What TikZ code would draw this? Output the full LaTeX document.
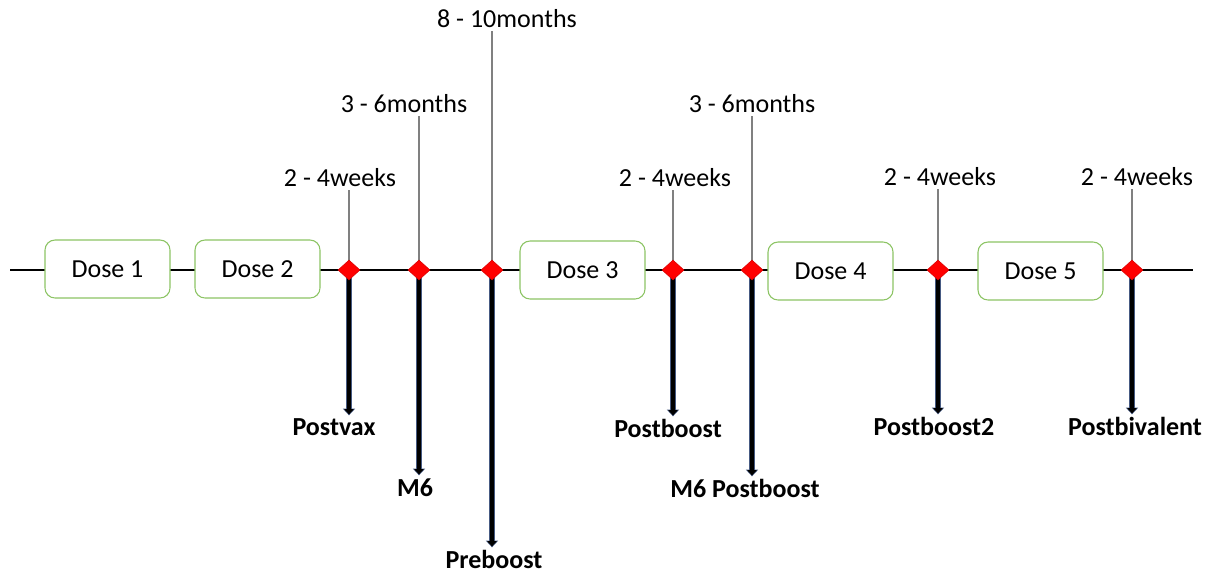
\documentclass[tikz,border=0pt]{standalone}
\usepackage{fontspec}
\setmainfont{Carlito}
\usetikzlibrary{shapes.geometric,arrows.meta}
\pgfdeclarelayer{bg}
\pgfsetlayers{bg,main}
\definecolor{boxgreen}{RGB}{140,196,100}
\definecolor{slate}{RGB}{70,90,130}
\begin{document}
\begin{tikzpicture}[x=0.75pt,y=-0.75pt,
  dosebox/.style={draw=boxgreen, line width=0.8pt, rounded corners=7.5pt,
    minimum width=93.75pt, minimum height=43.5pt, fill=white,
    font=\fontsize{19.5}{22}\selectfont},
  visit/.style={diamond, fill=red, draw=red!85!black, line width=0.4pt,
    minimum width=16.5pt, minimum height=15pt, inner sep=0pt},
  toplab/.style={anchor=south, inner sep=0pt, font=\fontsize{19.5}{22}\selectfont},
  botlab/.style={anchor=north, inner sep=0pt, font=\bfseries\fontsize{19.5}{22}\selectfont},
  tick/.style={draw=gray, line width=0.8pt, shorten >=2pt},
  shaftout/.style={line width=5pt, draw=slate, -{Triangle[length=5pt,width=9pt]}},
  shaftin/.style={line width=3.6pt, draw=black, shorten >=0.7pt, -{Triangle[length=4pt,width=7pt]}},
  axis/.style={draw=black, line width=0.9pt}
]
\useasboundingbox (0,0) rectangle (1209,575);

% timeline ends
\coordinate (L) at (10,270);
\coordinate (R) at (1193,270);

% dose boxes
\node[dosebox] (dose1) at (107.5,269) {Dose 1};
\node[dosebox] (dose2) at (257.5,269) {Dose 2};
\node[dosebox] (dose3) at (582.5,270) {Dose 3};
\node[dosebox] (dose4) at (830.5,271) {Dose 4};
\node[dosebox] (dose5) at (1040.5,271) {Dose 5};

% sampling points
\node[visit] (v1) at (349,270) {};
\node[visit] (v2) at (419,270) {};
\node[visit] (v3) at (492,270) {};
\node[visit] (v4) at (673,270) {};
\node[visit] (v5) at (752,270) {};
\node[visit] (v6) at (938,270) {};
\node[visit] (v7) at (1132,270) {};

% interval labels
\node[toplab] (t1) at (340,187) {2 - 4weeks};
\node[toplab] (t2) at (404,113) {3 - 6months};
\node[toplab] (t3) at (507,28) {8 - 10months};
\node[toplab] (t4) at (675,187) {2 - 4weeks};
\node[toplab] (t5) at (752,113) {3 - 6months};
\node[toplab] (t6) at (940,186) {2 - 4weeks};
\node[toplab] (t7) at (1137,186) {2 - 4weeks};

% sample labels
\node[botlab] (b1) at (334,418) {Postvax};
\node[botlab] (b2) at (415,478) {M6};
\node[botlab] (b3) at (494,550) {Preboost};
\node[botlab] (b4) at (668,419) {Postboost};
\node[botlab] (b5) at (745,479) {M6 Postboost};
\node[botlab] (b6) at (934,417) {Postboost2};
\node[botlab] (b7) at (1135,417) {Postbivalent};

\begin{pgfonlayer}{bg}
  \draw[axis] (L) -- (R);
  \foreach \i in {1,...,7} {
    \draw[tick] (v\i.center) -- (v\i.center |- t\i.south);
    \draw[shaftout] (v\i.center) -- ([yshift=2pt]v\i.center |- b\i.north);
    \draw[shaftin] (v\i.center) -- ([yshift=2pt]v\i.center |- b\i.north);
  }
\end{pgfonlayer}
\end{tikzpicture}
\end{document}
